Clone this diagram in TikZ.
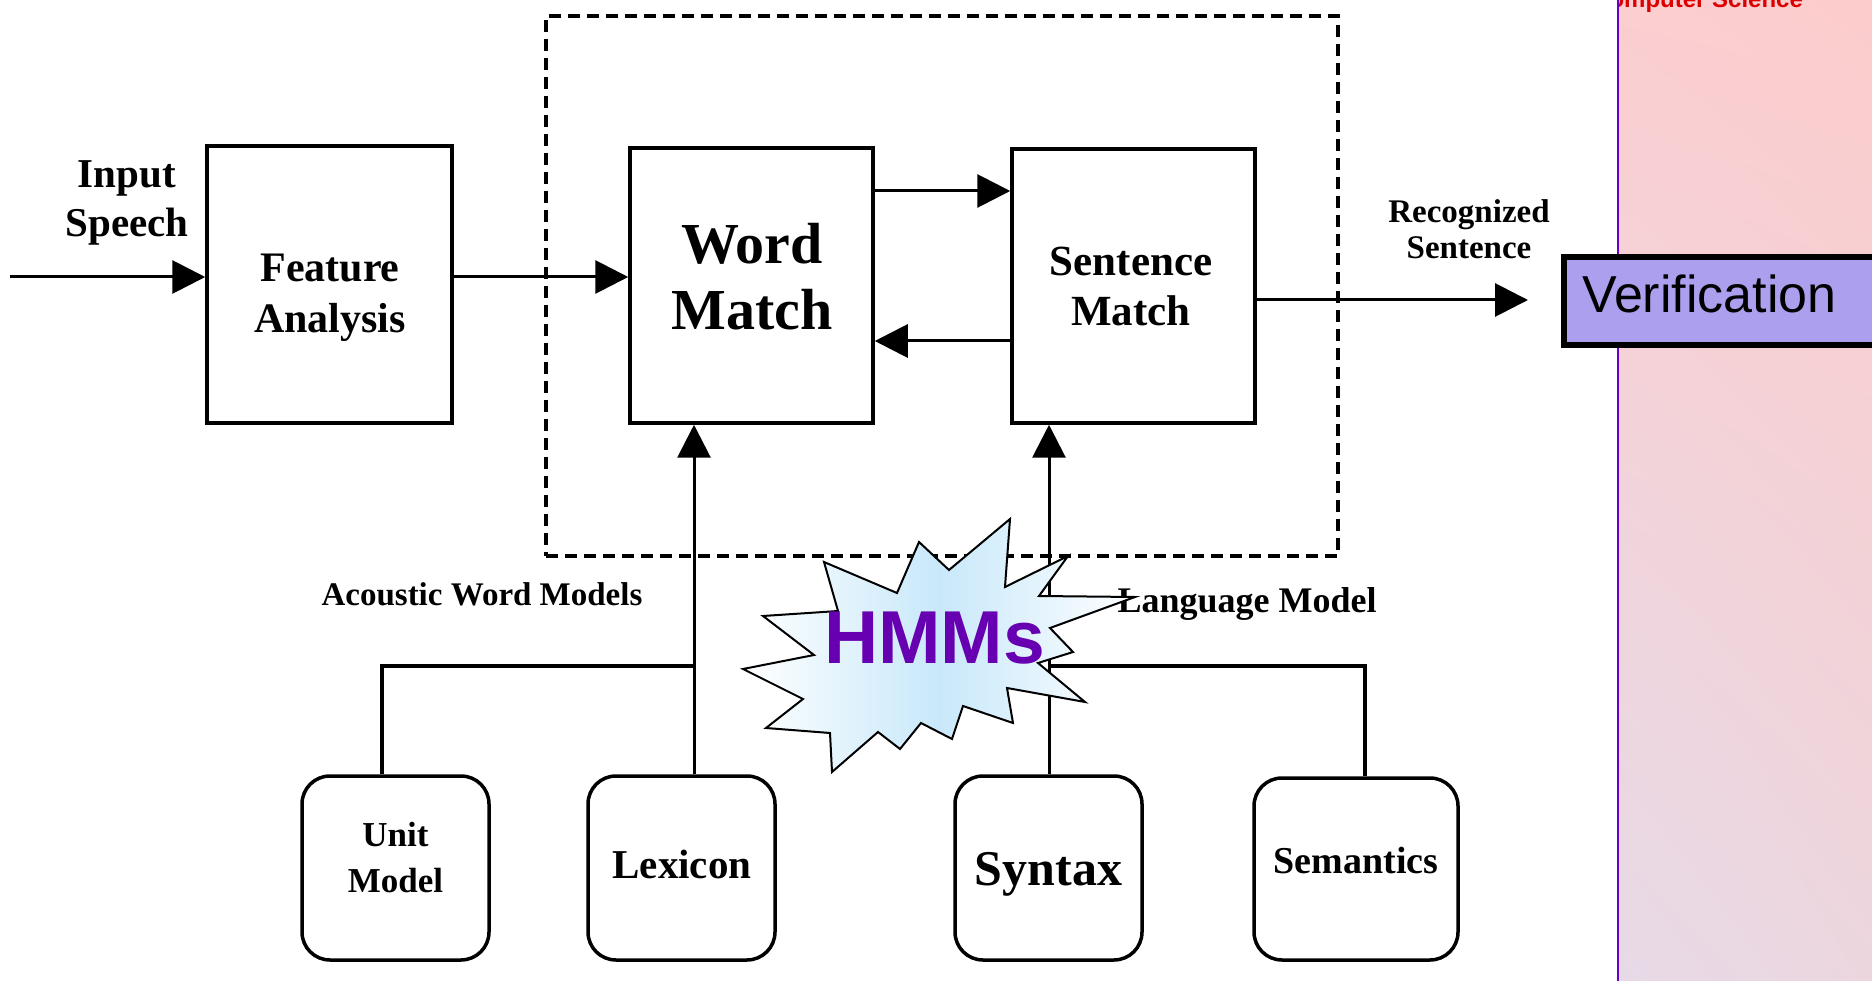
\documentclass[tikz,border=0pt]{standalone}
\usepackage{fontspec}
\setmainfont{Liberation Serif}
\newfontfamily\sansf{Liberation Sans}
\usetikzlibrary{arrows.meta,shadings}
\definecolor{panelpinkA}{RGB}{252,204,204}
\definecolor{panelpinkB}{RGB}{251,206,208}
\definecolor{panellavA}{RGB}{231,218,231}
\definecolor{panellavB}{RGB}{236,214,222}
\definecolor{edgepurple}{RGB}{102,0,204}
\definecolor{verfill}{RGB}{172,160,238}
\definecolor{hmmpurple}{RGB}{102,0,176}
\definecolor{starblue}{RGB}{200,232,250}
\definecolor{redtext}{RGB}{220,0,0}
\newcommand{\fsz}[2]{\fontsize{#1}{#2}\selectfont}
\begin{document}
\begin{tikzpicture}[x=1pt,y=-1pt,
  box/.style={draw, line width=3.5pt, minimum width=#1, inner sep=0pt},
  rbox/.style={draw, line width=3.5pt, rounded corners=28pt, inner sep=0pt},
  txt/.style={inner sep=0pt, align=center},
  arr/.style={line width=3pt, -{Triangle[length=33pt,width=33pt]}},
  conn/.style={line width=3.5pt},
  grpbox/.style={draw, line width=3.5pt, dash pattern=on 12pt off 7pt, inner sep=0pt}
]
\clip (0,0) rectangle (1872,981);
\useasboundingbox (0,0) rectangle (1872,981);
\fill[white] (0,0) rectangle (1872,981);

% side panel
\shade[upper left=panelpinkB, upper right=panelpinkA, lower left=panellavA, lower right=panellavB]
  (1617,0) rectangle (1872,981);
\begin{scope}
  \clip (1619,0) rectangle (1872,981);
  \node[anchor=base west, inner sep=0pt, font=\sansf\bfseries\fsz{24}{28}, text=redtext] (cs) at (1592,8) {Computer Science};
\end{scope}
\draw[edgepurple, line width=2.5pt] (1618,0) -- (1618,981);

% group box
\node[grpbox, minimum width=792pt, minimum height=540pt] (grp) at (942,286) {};

% main boxes
\node[box=245pt, minimum height=277pt] (fa) at (329.5,284.5) {};
\node[box=243pt, minimum height=275pt] (wm) at (751.5,285.5) {};
\node[box=243pt, minimum height=274pt] (sm) at (1133.5,286) {};

\node[rbox, minimum width=187pt, minimum height=184pt] (um) at (395.5,868) {};
\node[rbox, minimum width=187pt, minimum height=184pt] (lex) at (681.5,868) {};
\node[rbox, minimum width=187pt, minimum height=184pt] (syn) at (1048.5,868) {};
\node[rbox, minimum width=204pt, minimum height=182pt] (sem) at (1356,869) {};

% texts
\node[txt, font=\bfseries\fsz{41}{49}] (intext) at (127,203) {Input\\Speech};
\node[txt, font=\bfseries\fsz{42}{51}] (fatext) at (330,298) {Feature\\Analysis};
\node[txt, font=\bfseries\fsz{58}{66}] (wmtext) at (752,277) {Word\\Match};
\node[txt, font=\bfseries\fsz{43}{50}] (smtext) at (1131,286) {Sentence\\Match};
\node[txt, font=\bfseries\fsz{33}{36}] (rstext) at (1469,229) {Recognized\\Sentence};
\node[txt, font=\bfseries\fsz{33}{40}, anchor=base] (awm) at (482,605) {Acoustic Word Models};
\node[txt, font=\bfseries\fsz{36}{40}, anchor=base] (lm) at (1247,612) {Language Model};
\node[txt, font=\bfseries\fsz{35}{46}] (umtext) at (395.5,858) {Unit\\Model};
\node[txt, font=\bfseries\fsz{41}{46}, anchor=base] (lextext) at (682,878) {Lexicon};
\node[txt, font=\bfseries\fsz{50}{56}, anchor=base] (syntext) at (1048.5,885) {Syntax};
\node[txt, font=\bfseries\fsz{38}{44}, anchor=base] (semtext) at (1356,873) {Semantics};

% helper coordinates
\coordinate (instart) at (10,277);
\coordinate (rowtop) at (0,191);
\coordinate (rowbot) at (0,341);
\coordinate (rowout) at (0,300);
\coordinate (outtip) at (1528,300);
\coordinate (lexx) at (694,0);
\coordinate (umx) at (382,0);
\coordinate (semx) at (1365,0);
\coordinate (jl) at (694,666);
\coordinate (jr) at (1049,666);

% connectors
\draw[arr] (instart) -- (instart -| fa.west);
\draw[arr] (fa.east |- instart) -- (wm.west |- instart);
\draw[arr] (wm.east |- rowtop) -- (sm.west |- rowtop);
\draw[arr] (sm.west |- rowbot) -- (wm.east |- rowbot);
\draw[arr] (sm.east |- rowout) -- (outtip);
\draw[arr] (lex.north -| lexx) -- (wm.south -| lexx);
\draw[arr] (syn.north -| jr) -- (sm.south -| jr);
\draw[conn] (um.north -| umx) |- (jl);
\draw[conn] (sem.north -| semx) |- (jr);

% starburst
\draw[line width=2pt, left color=white, right color=white, middle color=starblue]
 (824,562) -- (897,593) -- (919,542) -- (949,570) -- (1010,519) -- (1005,587) -- (1068,556)
 -- (1039,596) -- (1135,597) -- (1050,628) -- (1073,652) -- (1038,663) -- (1085,702)
 -- (1007,688) -- (1013,723) -- (963,706) -- (952,739) -- (921,723) -- (900,749)
 -- (878,732) -- (832,772) -- (830,733) -- (766,728) -- (803,699) -- (743,669)
 -- (814,655) -- (763,616) -- (838,611) -- cycle;
\node[anchor=base, inner sep=0pt, font=\sansf\bfseries\fsz{75}{80}, text=hmmpurple] (hmm) at (934.5,663) {HMMs};

% verification box
\node[draw, line width=6pt, fill=verfill, anchor=north west, minimum width=339pt, minimum height=88pt, inner sep=0pt] (ver) at (1561,254) {};
\node[anchor=base west, inner sep=0pt, font=\sansf\fsz{52}{60}] (vtext) at (1582,313) {Verification};
\end{tikzpicture}
\end{document}
